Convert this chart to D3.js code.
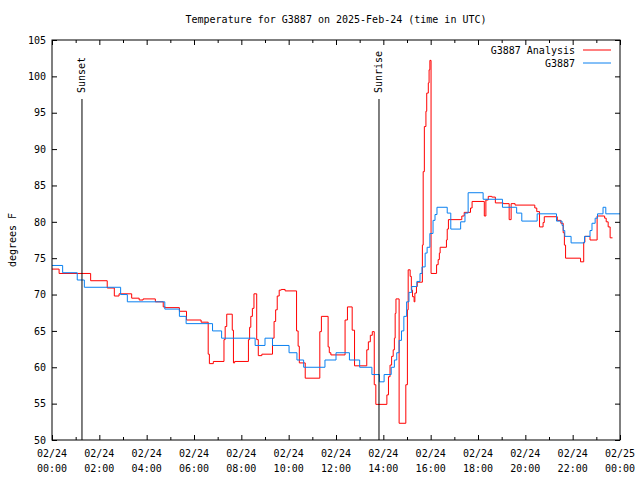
<!DOCTYPE html>
<html>
<head>
<meta charset="utf-8">
<script src="https://cdn.jsdelivr.net/npm/d3@7"></script>
<style>
  html, body { margin: 0; padding: 0; background: #fff; }
  svg text { font-family: "DejaVu Sans Mono", "Liberation Mono", monospace; font-size: 10px; fill: #000; }
</style>
</head>
<body>
<svg id="chart" width="640" height="480"></svg>
<script>
// ---------------- data ----------------
const title = "Temperature for G3887 on 2025-Feb-24 (time in UTC)";
const yLabel = "degrees F";
const seriesNames = ["G3887 Analysis", "G3887"];
const seriesColors = ["#ff0000", "#0a80f0"];
const yTicks = [50, 55, 60, 65, 70, 75, 80, 85, 90, 95, 100, 105];
const xMajorHours = [0, 2, 4, 6, 8, 10, 12, 14, 16, 18, 20, 22, 24];
const xMinorHours = [1, 3, 5, 7, 9, 11, 13, 15, 17, 19, 21, 23];
const events = ["Sunset", "Sunrise"];
const eventTimes = ["01:16", "13:49"];

const analysisTimes = ["00:00","00:18","01:38","02:20","02:38","02:50","03:22","03:41","03:51","04:22",
  "04:42","04:47","05:23","05:41","06:18","06:36","06:39","06:49","07:16","07:19","07:23","07:37","07:40",
  "07:43","08:18","08:21","08:24","08:28","08:32","08:39","08:43","08:52","09:19","09:23","09:27","09:31",
  "09:36","09:41","09:51","10:20","10:24","10:27","10:42","11:19","11:23","11:40","11:43","11:47","12:23",
  "12:29","12:41","12:47","13:18","13:22","13:27","13:32","13:37","13:41","14:09","14:13","14:17","14:21",
  "14:25","14:28","14:30","14:32","14:40","14:57","15:01","15:03","15:08","15:11","15:14","15:18","15:20",
  "15:24","15:26","15:39","15:41","15:44","15:48","15:50","15:54","15:56","15:58","16:01","16:15","16:19",
  "16:22","16:24","16:40","16:42","16:45","17:19","17:25","17:41","17:45","18:16","18:20","18:26","18:35",
  "18:44","19:04","19:19","19:24","19:34","20:24","20:29","20:36","20:45","20:48","21:21","21:30","21:36",
  "21:39","21:42","22:20","22:28","22:31","22:44","23:02","23:21","23:25","23:30","23:35","23:41"];
const analysisValues = [73.5,72.9,71.9,70.9,69.8,70.1,69.5,69.25,69.4,69.0,
  68.3,68.2,67.7,66.5,66.2,61.8,60.5,60.8,63.8,65.6,67.3,65.1,60.6,
  60.8,63.8,65.5,67.0,68.1,70.1,63.8,61.6,61.8,64.0,66.3,67.9,69.8,
  70.6,70.7,70.5,65.0,62.9,60.6,58.5,64.9,67.0,62.8,62.0,61.7,66.5,
  68.3,65.1,60.2,62.4,63.5,64.4,64.9,57.6,54.9,56.2,58.7,60.3,61.5,
  62.4,64.0,67.4,69.4,52.3,57.6,67.9,73.4,72.5,70.6,69.7,69.0,70.2,
  71.1,71.7,76.8,86.9,93.1,95.2,97.7,99.1,100.9,102.2,72.9,74.1,74.8,
  75.7,76.5,77.5,79.0,80.3,80.8,81.3,81.9,82.8,80.8,83.0,83.5,83.4,
  82.6,82.5,80.3,82.5,82.3,81.9,81.4,79.3,79.9,80.7,80.2,79.8,78.5,
  76.8,75.0,74.5,77.2,78.0,77.5,80.8,80.5,80.0,79.3,77.8,77.8];

const stationTimes = ["00:00","00:27","01:04","01:22","02:54","03:11","04:46","05:23","05:40","06:47",
  "07:10","08:35","09:00","09:19","10:01","10:21","10:38","11:32","12:00","12:34","13:00","13:31","13:50",
  "14:02","14:20","14:28","14:34","14:40","14:46","14:52","14:59","15:05","15:12","15:25","15:33","15:38",
  "15:46","15:51","15:58","16:06","16:11","16:16","16:42","16:51","17:16","17:27","17:35","18:13","19:02",
  "19:38","19:51","20:30","21:19","21:33","21:36","21:40","21:56","22:30","22:44","22:49","22:57","23:03",
  "23:17","23:24","24:00"];
const stationValues = [74.0,73.0,72.0,71.0,70.0,69.0,68.0,67.0,66.0,65.0,
  64.0,63.0,64.0,63.0,62.0,61.0,60.0,61.0,62.0,61.0,60.0,59.0,58.0,
  59.0,60.0,61.0,62.0,63.7,65.0,67.0,69.0,70.3,71.1,71.8,72.9,73.8,
  75.7,76.5,78.4,80.2,81.0,82.0,81.2,79.0,80.0,81.2,84.0,83.1,82.0,
  81.2,80.1,81.1,80.1,79.5,78.8,78.0,77.1,78.0,78.8,79.8,80.5,81.1,
  82.0,81.1,81.1];

// ---------------- helpers ----------------
const base = Date.UTC(2025, 1, 24, 0, 0);
function toDate(hhmm) {
  const [h, m] = hhmm.split(":").map(Number);
  return new Date(base + (h * 60 + m) * 60000);
}
const hourDate = h => new Date(base + h * 3600000);

const L = 52, R = 620, T = 40, B = 440;
const svg = d3.select("#chart");

const x = d3.scaleUtc().domain([hourDate(0), hourDate(24)]).range([L, R]);
const y = d3.scaleLinear().domain([50, 105]).range([B, T]);

// ---------------- axes ----------------
const gLeft = svg.append("g").attr("transform", `translate(${L},0)`)
  .call(d3.axisLeft(y).tickValues(yTicks).tickSizeInner(-5).tickSizeOuter(0).tickPadding(6));
const gRight = svg.append("g").attr("transform", `translate(${R},0)`)
  .call(d3.axisRight(y).tickValues(yTicks).tickSizeInner(-5).tickSizeOuter(0).tickFormat(""));
const gBottom = svg.append("g").attr("transform", `translate(0,${B})`)
  .call(d3.axisBottom(x).tickValues(xMajorHours.map(hourDate)).tickSizeInner(-5).tickSizeOuter(0).tickFormat(""));
const gBottomMinor = svg.append("g").attr("transform", `translate(0,${B})`)
  .call(d3.axisBottom(x).tickValues(xMinorHours.map(hourDate)).tickSizeInner(-3).tickSizeOuter(0).tickFormat(""));
const gTop = svg.append("g").attr("transform", `translate(0,${T})`)
  .call(d3.axisTop(x).tickValues(xMajorHours.map(hourDate)).tickSizeInner(-5).tickSizeOuter(0).tickFormat(""));
const gTopMinor = svg.append("g").attr("transform", `translate(0,${T})`)
  .call(d3.axisTop(x).tickValues(xMinorHours.map(hourDate)).tickSizeInner(-3).tickSizeOuter(0).tickFormat(""));

[gLeft, gRight, gBottom, gBottomMinor, gTop, gTopMinor].forEach(g => {
  g.select(".domain").remove();
  g.selectAll(".tick line").attr("stroke", "#000");
  g.selectAll("text").attr("font-family", null).attr("font-size", null);
});

// x tick labels (two lines)
const fmtDate = d3.utcFormat("%m/%d"), fmtTime = d3.utcFormat("%H:%M");
const xl = svg.append("g").selectAll("text").data(xMajorHours.map(hourDate)).join("text")
  .attr("text-anchor", "middle");
xl.append("tspan").attr("x", d => x(d)).attr("y", 457).text(d => fmtDate(d));
xl.append("tspan").attr("x", d => x(d)).attr("y", 472).text(d => fmtTime(d));

// ---------------- series ----------------
const line = d3.line().x(d => x(d[0])).y(d => y(d[1])).curve(d3.curveStepAfter);
const analysis = analysisTimes.map((t, i) => [toDate(t), analysisValues[i]]);
const station = stationTimes.map((t, i) => [toDate(t), stationValues[i]]);

svg.append("path").datum(analysis).attr("d", line)
  .attr("fill", "none").attr("stroke", seriesColors[0]).attr("stroke-width", 1);
svg.append("path").datum(station).attr("d", line)
  .attr("fill", "none").attr("stroke", seriesColors[1]).attr("stroke-width", 1);

// ---------------- events ----------------
events.forEach((name, i) => {
  const ex = x(toDate(eventTimes[i]));
  svg.append("line").attr("x1", ex).attr("x2", ex).attr("y1", 99).attr("y2", B)
    .attr("stroke", "#000").attr("stroke-width", 1);
  svg.append("text").attr("transform", `translate(${ex},93) rotate(-90)`)
    .attr("dy", "0.35em").attr("text-anchor", "start").text(name);
});

// ---------------- border ----------------
svg.append("rect").attr("x", L).attr("y", T).attr("width", R - L).attr("height", B - T)
  .attr("fill", "none").attr("stroke", "#000").attr("stroke-width", 1);

// ---------------- legend ----------------
seriesNames.forEach((name, i) => {
  const ly = 50 + i * 13;
  svg.append("text").attr("x", 575).attr("y", ly).attr("dy", "0.35em")
    .attr("text-anchor", "end").text(name);
  svg.append("line").attr("x1", 583).attr("x2", 611).attr("y1", ly).attr("y2", ly)
    .attr("stroke", seriesColors[i]).attr("stroke-width", 1);
});

// ---------------- titles ----------------
svg.append("text").attr("x", (L + R) / 2).attr("y", 19).attr("dy", "0.35em")
  .attr("text-anchor", "middle").text(title);
svg.append("text").attr("transform", "translate(12,240) rotate(-90)")
  .attr("dy", "0.35em").attr("text-anchor", "middle").text(yLabel);
</script>
</body>
</html>
